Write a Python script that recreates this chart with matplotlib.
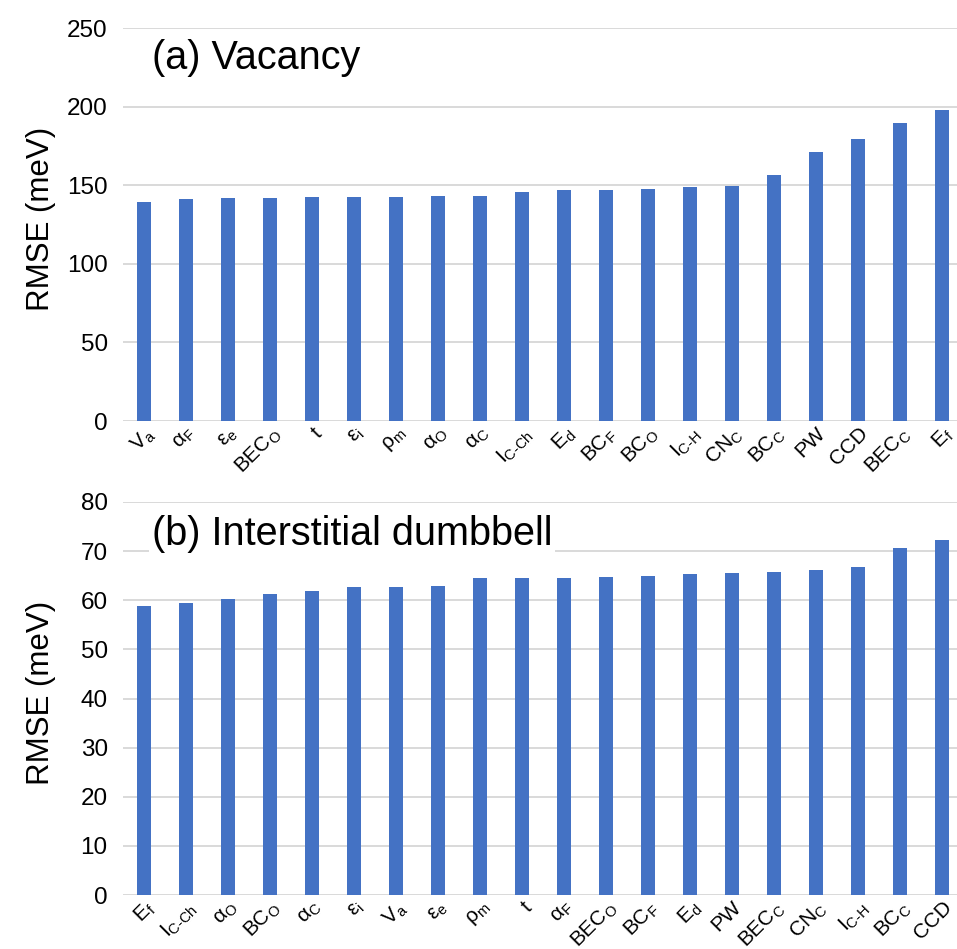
import matplotlib
matplotlib.use("Agg")
import matplotlib.pyplot as plt
import numpy as np

plt.rcParams['font.family'] = ['Liberation Sans', 'DejaVu Sans']
plt.rcParams['mathtext.fontset'] = 'custom'
plt.rcParams['mathtext.rm'] = 'Liberation Sans'
plt.rcParams['mathtext.it'] = 'Liberation Sans:italic'
plt.rcParams['mathtext.bf'] = 'Liberation Sans:bold'

# (a) Vacancy
vac_labels = [r'V$_\mathregular{a}$', r'α$_\mathregular{F}$', r'ε$_\mathregular{e}$',
              r'BEC$_\mathregular{O}$', 't', r'ε$_\mathregular{i}$', r'ρ$_\mathregular{m}$',
              r'α$_\mathregular{O}$', r'α$_\mathregular{C}$', r'I$_\mathregular{C‐Ch}$',
              r'E$_\mathregular{d}$', r'BC$_\mathregular{F}$', r'BC$_\mathregular{O}$',
              r'I$_\mathregular{C‐H}$', r'CN$_\mathregular{C}$', r'BC$_\mathregular{C}$',
              'PW', 'CCD', r'BEC$_\mathregular{C}$', r'E$_\mathregular{f}$']
vac_rmse = [139.6, 141.3, 141.9, 142.0, 142.2, 142.4, 142.7, 143.0, 143.2, 145.9,
            146.9, 147.1, 147.8, 148.6, 149.6, 156.2, 170.9, 179.4, 189.6, 197.6]

# (b) Interstitial dumbbell
dumb_labels = [r'E$_\mathregular{f}$', r'I$_\mathregular{C‐Ch}$', r'α$_\mathregular{O}$',
               r'BC$_\mathregular{O}$', r'α$_\mathregular{C}$', r'ε$_\mathregular{i}$',
               r'V$_\mathregular{a}$', r'ε$_\mathregular{e}$', r'ρ$_\mathregular{m}$', 't',
               r'α$_\mathregular{F}$', r'BEC$_\mathregular{O}$', r'BC$_\mathregular{F}$',
               r'E$_\mathregular{d}$', 'PW', r'BEC$_\mathregular{C}$', r'CN$_\mathregular{C}$',
               r'I$_\mathregular{C‐H}$', r'BC$_\mathregular{C}$', 'CCD']
dumb_rmse = [58.9, 59.5, 60.3, 61.3, 61.8, 62.6, 62.6, 62.9, 64.5, 64.5,
             64.6, 64.7, 64.9, 65.4, 65.5, 65.8, 66.1, 66.8, 70.6, 72.2]

BAR = '#4472C4'
GRID = '#D9D9D9'

W, H = 957, 949
fig = plt.figure(figsize=(W / 100, H / 100), dpi=100)

def px_axes(x0, y_top, x1, y_bot):
    return fig.add_axes([x0 / W, 1 - y_bot / H, (x1 - x0) / W, (y_bot - y_top) / H])

ax1 = px_axes(123, 28, 963, 421)
ax2 = px_axes(123, 502, 963, 895)

def draw(ax, labels, values, ymax, step, title, title_y, boxed):
    x = np.arange(len(values))
    ax.bar(x, values, width=0.33, color=BAR, zorder=3)
    ax.set_xlim(-0.5, len(values) - 0.5)
    ax.set_ylim(0, ymax)
    ax.set_yticks(np.arange(0, ymax + step / 2, step))
    ax.yaxis.grid(True, color=GRID, linewidth=1.4, zorder=0)
    ax.set_axisbelow(True)
    for s in ax.spines.values():
        s.set_visible(False)
    ax.tick_params(axis='both', length=0)
    ax.tick_params(axis='y', labelsize=17.5, pad=11)
    ax.set_xticks(x)
    ax.set_xticklabels(labels, rotation=45, ha='right', rotation_mode='anchor',
                       fontsize=15)
    ax.tick_params(axis='x', pad=2)
    ax.set_ylabel('RMSE (meV)', fontsize=22.5)
    ax.yaxis.set_label_coords(-0.08, 0.515)
    kw = {}
    if boxed:
        kw['bbox'] = dict(facecolor='white', edgecolor='none', pad=2)
    ax.text(0.034, title_y, title, transform=ax.transAxes, fontsize=28.5,
            va='center', ha='left', zorder=5, **kw)

draw(ax1, vac_labels, vac_rmse, 250, 50, '(a) Vacancy', 0.924, False)
draw(ax2, dumb_labels, dumb_rmse, 80, 10, '(b) Interstitial dumbbell', 0.918, True)

fig.savefig('out.png', dpi=100, facecolor='white')
